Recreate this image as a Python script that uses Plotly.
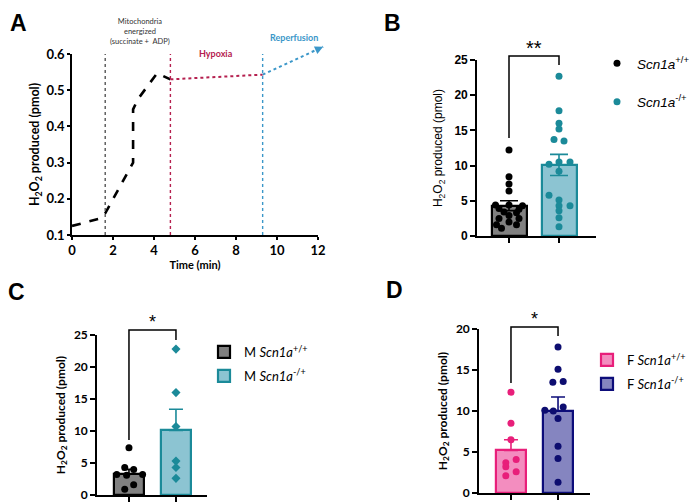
import plotly.graph_objects as go

# ---------------- data ----------------
# Panel A: time course
time_energ = [0, 1.4, 1.62, 2.98, 2.98, 3.2, 4.15, 4.8]
h2o2_energ = [0.125, 0.146, 0.16, 0.30, 0.447, 0.474, 0.547, 0.53]
time_hyp = [4.8, 9.3]
h2o2_hyp = [0.53, 0.543]
time_rep = [9.3, 12.25]
h2o2_rep = [0.543, 0.62]
event_times = [1.62, 4.8, 9.3]

# Panel B
b_wt = [12.2, 8.4, 7.4, 6.4, 4.4, 4.4, 4.3, 3.9, 3.8, 3.4, 3.3, 2.9, 2.5, 2.5, 2.0, 1.6, 1.6, 1.1]
b_het = [22.7, 17.8, 16.0, 15.2, 13.7, 13.5, 10.2, 10.5, 10.5, 9.2, 5.8, 5.1, 4.3, 4.3, 3.6, 2.6, 1.3]
b_means = [4.3, 10.1]
b_sem = [0.7, 1.5]

# Panel C (males)
c_wt = [7.4, 4.3, 4.0, 3.2, 3.1, 3.2, 1.6, 0.9]
c_het = [22.8, 16.0, 10.7, 5.3, 4.3, 2.6]
c_means = [3.3, 10.1]
c_sem = [0.7, 3.3]

# Panel D (females)
d_wt = [12.3, 8.5, 6.5, 4.1, 3.7, 3.2, 2.6, 2.1]
d_het = [17.8, 15.1, 13.5, 13.6, 10.5, 10.1, 10.0, 9.1, 5.7, 4.2, 1.3]
d_means = [5.2, 10.0]
d_sem = [1.3, 1.7]

# jitter offsets (horizontal scatter of the dots)
b_wt_jit = [0, 0, 0, 0, -0.27, 0, 0.27, -0.2, 0.2, -0.1, 0.15, 0, -0.2, 0.2, 0, -0.25, 0.15, -0.15]
b_het_jit = [0, 0, 0, 0, -0.1, 0.1, -0.2, 0, 0.22, 0, -0.2, 0, 0, 0.22, 0, 0, 0]
c_wt_jit = [0, -0.09, 0.1, -0.26, -0.05, 0.29, 0.1, -0.09]
c_het_jit = [0, 0, 0, 0, 0, 0]
d_wt_jit = [0, 0, 0, 0.11, -0.11, -0.11, 0.11, -0.11]
d_het_jit = [0, 0, -0.11, 0.11, 0.11, -0.28, -0.1, 0, 0, 0, 0]

W, H = 698, 503
OFF = 8  # the page body puts the figure 8px in from the window corner
def px(x):
    return (x - OFF) / W
def py(y):
    return 1 - (y - OFF) / H

CAL = "Lato, 'Open Sans', sans-serif"
ARI = "'Liberation Sans', Arial, sans-serif"
H2O2 = "H<sub>2</sub>O<sub>2</sub> produced (pmol)"

fig = go.Figure()

# ---------------- Panel A ----------------
fig.add_trace(go.Scatter(x=time_energ, y=h2o2_energ, mode="lines",
                         line=dict(color="black", width=2.6, dash="dash"),
                         xaxis="x", yaxis="y", showlegend=False))
fig.add_trace(go.Scatter(x=time_hyp, y=h2o2_hyp, mode="lines",
                         line=dict(color="#b5204f", width=2, dash="dot"),
                         xaxis="x", yaxis="y", showlegend=False))
# reperfusion line runs past the axis frame: draw it on an invisible overlay
# axis pair that has the same scale but a larger frame
fig.add_trace(go.Scatter(x=time_rep, y=h2o2_rep, mode="lines",
                         line=dict(color="#3b97c9", width=2, dash="dot"),
                         xaxis="x5", yaxis="y5", showlegend=False))
ev_colors = ["#555555", "#b5204f", "#3b97c9"]
for t, c in zip(event_times, ev_colors):
    fig.add_trace(go.Scatter(x=[t, t], y=[0.1, 0.6], mode="lines",
                             line=dict(color=c, width=1.4, dash="dot"),
                             xaxis="x", yaxis="y", showlegend=False))

# ---------------- bar panels helper ----------------
def bar_panel(xa, ya, means, sem, sem_minus, fills, outlines, wt, het, wt_j, het_j,
              dot_colors, symbols, names, legend, show_bar_leg, width, cap, msize):
    for i in range(2):
        fig.add_trace(go.Bar(
            x=[i], y=[means[i]], width=width,
            marker=dict(color=fills[i], line=dict(color=outlines[i], width=2.2)),
            error_y=dict(type="data", array=[sem[i]],
                         arrayminus=[sem[i] if sem_minus else 0],
                         symmetric=False, color=outlines[i], thickness=1.6, width=cap),
            xaxis=xa, yaxis=ya, name=names[i], legend=legend,
            legendgroup=legend + str(i), showlegend=show_bar_leg))
    for i, (vals, jit) in enumerate([(wt, wt_j), (het, het_j)]):
        fig.add_trace(go.Scatter(
            x=[i + j for j in jit], y=vals, mode="markers",
            marker=dict(color=dot_colors[i], size=msize, symbol=symbols[i]),
            xaxis=xa, yaxis=ya, name=names[i], legend=legend,
            legendgroup=legend + str(i), showlegend=not show_bar_leg,
            cliponaxis=False))

names_b = ["<i>Scn1a</i><sup>+/+</sup>", "<i>Scn1a</i><sup>-/+</sup>"]
bar_panel("x2", "y2", b_means, b_sem, True, ["#808080", "#8cc4d2"], ["#000000", "#1b8a99"],
          b_wt, b_het, b_wt_jit, b_het_jit, ["#000000", "#1b8a99"], ["circle", "circle"],
          names_b, "legend", False, 0.7, 9, 7)
names_c = ["M <i>Scn1a</i><sup>+/+</sup>", "M <i>Scn1a</i><sup>-/+</sup>"]
bar_panel("x3", "y3", c_means, c_sem, False, ["#808080", "#8cc4d2"], ["#000000", "#1b8a99"],
          c_wt, c_het, c_wt_jit, c_het_jit, ["#000000", "#1b8a99"], ["circle", "diamond"],
          names_c, "legend2", True, 0.64, 7, 7)
names_d = ["F <i>Scn1a</i><sup>+/+</sup>", "F <i>Scn1a</i><sup>-/+</sup>"]
bar_panel("x4", "y4", d_means, d_sem, False, ["#f38dbf", "#8585c0"], ["#e81f7a", "#0d0d7a"],
          d_wt, d_het, d_wt_jit, d_het_jit, ["#e81f7a", "#0d0d70"], ["circle", "circle"],
          names_d, "legend3", True, 0.64, 7, 7)

# ---------------- axes ----------------
axline = dict(showline=True, linecolor="black", linewidth=1.6, ticks="outside",
              tickcolor="black", ticklen=5, tickwidth=1.6, showgrid=False, zeroline=False)
axline_a = dict(axline, ticklen=3)

# panel A frame in pixels: x 72..318 -> 0..12, y 235..54 -> 0.1..0.6
ax_l, ax_r, ay_b, ay_t = 72, 318, 235, 54
ov_r, ov_t = 335, 35
ov_xmax = 12 * (ov_r - ax_l) / (ax_r - ax_l)
ov_ymax = 0.1 + 0.5 * (ay_b - ov_t) / (ay_b - ay_t)

layout = dict(
    width=W, height=H, autosize=False,
    margin=dict(l=0, r=0, t=0, b=0, autoexpand=False),
    paper_bgcolor="white", plot_bgcolor="rgba(0,0,0,0)",
    bargap=0, barmode="overlay",
    showlegend=True,
    xaxis=dict(domain=[px(ax_l), px(ax_r)], range=[0, 12], tickvals=[0, 2, 4, 6, 8, 10, 12],
               title=dict(text="<b>Time (min)</b>", font=dict(family=CAL, size=11, color="black"), standoff=3),
               tickfont=dict(family=CAL, size=13, color="black", weight="bold"), anchor="y", **axline_a),
    yaxis=dict(domain=[py(ay_b), py(ay_t)], range=[0.1, 0.6], dtick=0.1, tickformat=".1f",
               title=dict(text="<b>" + H2O2 + "</b>", font=dict(family=CAL, size=12.5, color="black"), standoff=4),
               tickfont=dict(family=CAL, size=13, color="black", weight="bold"), anchor="x", **axline_a),
    xaxis5=dict(domain=[px(ax_l), px(ov_r)], range=[0, ov_xmax], visible=False, anchor="y5"),
    yaxis5=dict(domain=[py(ay_b), py(ov_t)], range=[0.1, ov_ymax], visible=False, anchor="x5"),
    xaxis2=dict(domain=[px(477), px(596)], range=[-0.64, 1.74], tickvals=[0, 1], showticklabels=False,
                anchor="y2", **axline),
    yaxis2=dict(domain=[py(236), py(60)], range=[0, 25], dtick=5,
                title=dict(text=H2O2, font=dict(family=ARI, size=12, color="black"), standoff=9),
                tickfont=dict(family=ARI, size=12, color="black", weight="bold"), anchor="x2", **axline),
    xaxis3=dict(domain=[px(97), px(207)], range=[-0.68, 1.66], tickvals=[0, 1], showticklabels=False,
                anchor="y3", **axline),
    yaxis3=dict(domain=[py(495), py(335)], range=[0, 25], dtick=5,
                title=dict(text="<b>" + H2O2 + "</b>", font=dict(family=CAL, size=12, color="black"), standoff=6),
                tickfont=dict(family=CAL, size=12, color="black", weight="bold"), anchor="x3", **axline),
    xaxis4=dict(domain=[px(479), px(590)], range=[-0.68, 1.68], tickvals=[0, 1], showticklabels=False,
                anchor="y4", **axline),
    yaxis4=dict(domain=[py(493), py(329)], range=[0, 20], dtick=5,
                title=dict(text="<b>" + H2O2 + "</b>", font=dict(family=CAL, size=12, color="black"), standoff=6),
                tickfont=dict(family=CAL, size=12, color="black", weight="bold"), anchor="x4", **axline),
    legend=dict(x=px(597), y=py(48), xanchor="left", yanchor="top", bgcolor="rgba(0,0,0,0)",
                font=dict(family=ARI, size=13.5, color="black"), tracegroupgap=18, itemwidth=30),
    legend2=dict(x=px(204), y=py(337), xanchor="left", yanchor="top", bgcolor="rgba(0,0,0,0)",
                 font=dict(family=CAL, size=13, color="black"), tracegroupgap=4, itemwidth=30),
    legend3=dict(x=px(587), y=py(345), xanchor="left", yanchor="top", bgcolor="rgba(0,0,0,0)",
                 font=dict(family=CAL, size=13, color="black"), tracegroupgap=4, itemwidth=30),
)
fig.update_layout(**layout)

# ---------------- annotations ----------------
def note(text, x, y, font, xref="paper", yref="paper", yanchor="middle"):
    return dict(text=text, x=x, y=y, xref=xref, yref=yref, showarrow=False,
                xanchor="center", yanchor=yanchor, font=font)

ann = []
for letter, x, y in [("A", 18, 8), ("B", 392, 8)]:
    ann.append(note("<b>" + letter + "</b>", px(x), py(y), dict(family=ARI, size=23, color="black"),
                    yanchor="top"))
for letter, x, y in [("C", 16, 292), ("D", 394, 290)]:
    ann.append(note("<b>" + letter + "</b>", px(x), py(y), dict(family=ARI, size=23, color="black")))
ann.append(note("Mitochondria<br>energized<br>(succinate +  ADP)", px(140), py(32),
                dict(family=CAL, size=7.5, color="#333333")))
ann.append(note("<b>Hypoxia</b>", px(216), py(53), dict(family=CAL, size=9, color="#b5204f")))
ann.append(note("<b>Reperfusion</b>", px(294), py(38), dict(family=CAL, size=9, color="#3b97c9")))
ann.append(dict(x=time_rep[1], y=h2o2_rep[1], xref="x5", yref="y5", axref="x5", ayref="y5",
                ax=12.0, ay=0.6135, showarrow=True, arrowhead=2, arrowsize=1.1, arrowwidth=1.5,
                arrowcolor="#3b97c9", text=""))
# significance stars
ann.append(note("**", 0.5, py(48), dict(family=ARI, size=20, color="black"), xref="x2"))
ann.append(note("*", 0.5, py(322), dict(family=ARI, size=18, color="black"), xref="x3"))
ann.append(note("*", 0.5, py(319), dict(family=ARI, size=18, color="black"), xref="x4"))
fig.update_layout(annotations=ann)

# significance brackets
def bracket(xref, yl, ytop, yr):
    fig.add_shape(type="path", xref=xref, yref="paper",
                  path=f"M 0 {py(yl)} L 0 {py(ytop)} L 1 {py(ytop)} L 1 {py(yr)}",
                  line=dict(color="black", width=1.5))

bracket("x2", 138, 56, 65)
bracket("x3", 440, 330, 340)
bracket("x4", 383, 327, 336)

fig.write_html("out.html")
